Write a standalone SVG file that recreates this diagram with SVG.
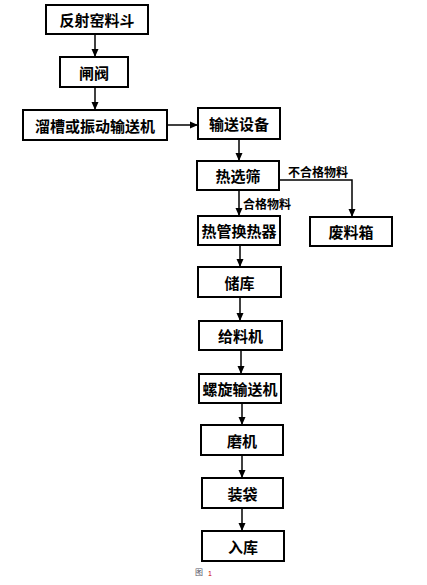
<svg xmlns="http://www.w3.org/2000/svg" width="427" height="585" viewBox="0 0 427 585">
<style>
.box{fill:#fff;stroke:#000;stroke-width:2}
.t{font-family:"Noto Sans CJK SC","Noto Sans CJK JP",sans-serif;font-size:15px;font-weight:bold;text-anchor:middle;dominant-baseline:central;fill:#000}
.lbl{font-family:"Noto Sans CJK SC","Noto Sans CJK JP",sans-serif;font-size:12px;font-weight:bold;fill:#000;dominant-baseline:central}
.ln{fill:none;stroke:#000;stroke-width:1.5}
</style>
<defs>
<marker id="ah" viewBox="0 0 8 8" refX="8" refY="4" markerWidth="8" markerHeight="8" markerUnits="userSpaceOnUse" orient="auto">
<path d="M0,0.5 L8,4 L0,7.5 Z" fill="#000"/>
</marker>
</defs>
<rect width="427" height="585" fill="#fff"/>
<g id="connectors">
<line class="ln" x1="95" y1="34" x2="95" y2="57" marker-end="url(#ah)"/>
<line class="ln" x1="95" y1="87" x2="95" y2="110" marker-end="url(#ah)"/>
<line class="ln" x1="167" y1="125" x2="198" y2="125" marker-end="url(#ah)"/>
<line class="ln" x1="239" y1="139" x2="239" y2="161" marker-end="url(#ah)"/>
<polyline class="ln" points="279,180 352,180 352,217" marker-end="url(#ah)"/>
<line class="ln" x1="239" y1="190" x2="239" y2="216" marker-end="url(#ah)"/>
<line class="ln" x1="240" y1="245" x2="240" y2="267" marker-end="url(#ah)"/>
<line class="ln" x1="240" y1="297" x2="240" y2="321" marker-end="url(#ah)"/>
<line class="ln" x1="241" y1="350" x2="241" y2="374" marker-end="url(#ah)"/>
<line class="ln" x1="242" y1="403" x2="242" y2="425" marker-end="url(#ah)"/>
<line class="ln" x1="242" y1="455" x2="242" y2="478" marker-end="url(#ah)"/>
<line class="ln" x1="242" y1="508" x2="242" y2="531" marker-end="url(#ah)"/>
<text class="lbl" x="288" y="171">不合格物料</text>
<text class="lbl" x="243" y="203">合格物料</text>
</g>
<g id="n1"><rect class="box" x="46" y="5" width="102" height="29"/><text class="t" x="97" y="19.5">反射窑料斗</text></g>
<g id="n2"><rect class="box" x="60" y="57" width="68" height="30"/><text class="t" x="94" y="72">闸阀</text></g>
<g id="n3"><rect class="box" x="23" y="110" width="144" height="30"/><text class="t" x="95" y="125">溜槽或振动输送机</text></g>
<g id="n4"><rect class="box" x="198" y="108" width="82" height="31"/><text class="t" x="239" y="123.5">输送设备</text></g>
<g id="n5"><rect class="box" x="197" y="161" width="82" height="29"/><text class="t" x="238" y="175.5">热选筛</text></g>
<g id="n6"><rect class="box" x="198" y="216" width="82" height="29"/><text class="t" x="239" y="230.5">热管换热器</text></g>
<g id="n7"><rect class="box" x="310" y="217" width="82" height="29"/><text class="t" x="351" y="231.5">废料箱</text></g>
<g id="n8"><rect class="box" x="198" y="267" width="83" height="30"/><text class="t" x="239.5" y="282">储库</text></g>
<g id="n9"><rect class="box" x="199" y="321" width="83" height="29"/><text class="t" x="240.5" y="335.5">给料机</text></g>
<g id="n10"><rect class="box" x="199" y="374" width="82" height="29"/><text class="t" x="240" y="388.5">螺旋输送机</text></g>
<g id="n11"><rect class="box" x="201" y="425" width="82" height="30"/><text class="t" x="242" y="440">磨机</text></g>
<g id="n12"><rect class="box" x="202" y="478" width="81" height="30"/><text class="t" x="242.5" y="493">装袋</text></g>
<g id="n13"><rect class="box" x="202" y="531" width="82" height="30"/><text class="t" x="243" y="546">入库</text></g>
<g id="caption">
<text x="195" y="575" font-family="'Noto Sans CJK SC',sans-serif" font-size="8" fill="#556">图</text>
<text x="208" y="576" font-family="'Liberation Sans',sans-serif" font-size="7" fill="#c00">1</text>
</g>
</svg>
